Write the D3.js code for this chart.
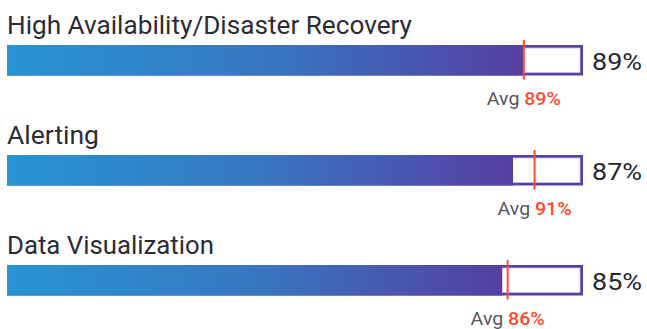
<!DOCTYPE html>
<html>
<head>
<meta charset="utf-8">
<script src="https://cdn.jsdelivr.net/npm/d3@7"></script>
<style>
  html, body { margin: 0; padding: 0; background: #ffffff; }
  svg { display: block; }
</style>
</head>
<body>
<svg id="chart" width="647" height="329"></svg>
<script>
// Feature scores with the average score across respondents
const categories = ["High Availability/Disaster Recovery", "Alerting", "Data Visualization"];
const scores = [89, 87, 85];
const averages = [89, 91, 86];
const scaleDomain = [-7, 100];

const W = 647, H = 329;
const trackLeft = 7, trackRight = 583;
const rowStep = 110, firstBarTop = 45, barH = 30.5;
const border = 3;

const svg = d3.select("#chart");

const x = d3.scaleLinear().domain(scaleDomain).range([trackLeft, trackRight]);
const y = d3.scaleBand()
  .domain(categories)
  .range([firstBarTop, firstBarTop + rowStep * categories.length])
  .paddingInner(0).paddingOuter(0);

const defs = svg.append("defs");
const grad = defs.append("linearGradient")
  .attr("id", "barGrad")
  .attr("x1", "0%").attr("x2", "100%").attr("y1", "0%").attr("y2", "0%");
grad.append("stop").attr("offset", "0%").attr("stop-color", "#2794d3");
grad.append("stop").attr("offset", "50%").attr("stop-color", "#3777c0");
grad.append("stop").attr("offset", "100%").attr("stop-color", "#553fa1");

const fontFamily = "Roboto, 'Noto Sans', sans-serif";
const rows = categories.map((c, i) => ({ cat: c, score: scores[i], avg: averages[i] }));

const g = svg.selectAll("g.row").data(rows).join("g").attr("class", "row")
  .attr("transform", d => `translate(0,${y(d.cat)})`);

// category title above each bar
const titleWidths = [405, 92, 207];
g.append("text")
  .attr("x", trackLeft)
  .attr("y", -11)
  .attr("font-family", fontFamily)
  .attr("font-size", 26.5)
  .attr("fill", "#2c2c38")
  .attr("textLength", (d, i) => titleWidths[i])
  .attr("lengthAdjust", "spacingAndGlyphs")
  .text(d => d.cat);

// outlined track
g.append("rect")
  .attr("x", trackLeft).attr("y", 0)
  .attr("width", trackRight - trackLeft).attr("height", barH)
  .attr("fill", "#5a3fa3");
g.append("rect")
  .attr("x", trackLeft + border).attr("y", border)
  .attr("width", trackRight - trackLeft - 2 * border).attr("height", barH - 2 * border)
  .attr("fill", "#ffffff")
  .attr("stroke", "#c9bfe6").attr("stroke-width", 0.8);

// gradient fill for the score
g.append("rect")
  .attr("x", trackLeft).attr("y", 0)
  .attr("width", d => x(d.score) - trackLeft).attr("height", barH)
  .attr("fill", "url(#barGrad)");

// average marker
g.append("line")
  .attr("x1", d => x(d.avg)).attr("x2", d => x(d.avg))
  .attr("y1", -5).attr("y2", barH + 4)
  .attr("stroke", "#ff4a2e").attr("stroke-width", 2);

// score value to the right
g.append("text")
  .attr("x", 592)
  .attr("y", 24.5)
  .attr("font-family", fontFamily)
  .attr("font-size", 24.5)
  .attr("fill", "#26262f")
  .attr("textLength", 50)
  .attr("lengthAdjust", "spacingAndGlyphs")
  .text(d => d.score + "%");

// average label under the marker
const avgText = g.append("text")
  .attr("x", d => x(d.avg))
  .attr("y", 60)
  .attr("text-anchor", "middle")
  .attr("font-family", fontFamily)
  .attr("font-size", 18.5)
  .attr("textLength", 74)
  .attr("lengthAdjust", "spacingAndGlyphs");
avgText.append("tspan").attr("fill", "#55555f").text("Avg ");
avgText.append("tspan").attr("fill", "#ff4a2e").attr("font-weight", 500).text(d => d.avg + "%");
</script>
</body>
</html>
